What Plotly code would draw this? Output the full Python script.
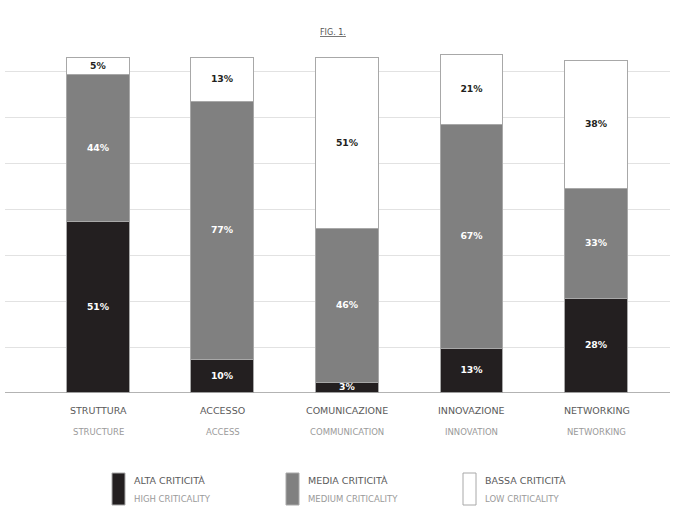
import plotly.graph_objects as go

categories_it = ["STRUTTURA", "ACCESSO", "COMUNICAZIONE", "INNOVAZIONE", "NETWORKING"]
categories_en = ["STRUCTURE", "ACCESS", "COMMUNICATION", "INNOVATION", "NETWORKING"]
alta = [51, 10, 3, 13, 28]
media = [44, 77, 46, 67, 33]
bassa = [5, 13, 51, 21, 38]
series_names_it = ["ALTA CRITICITÀ", "MEDIA CRITICITÀ", "BASSA CRITICITÀ"]
series_names_en = ["HIGH CRITICALITY", "MEDIUM CRITICALITY", "LOW CRITICALITY"]

W, H = 676, 508
L, R, T, B = 5, 6, 53, 115
PW, PH = W - L - R, H - T - B
YMAX = 101.5

def px2paper_x(px):
    return (px - L) / PW

def px2paper_y(py):
    return (H - B - py) / PH

fill_colors = ["#231f20", "#808080", "#ffffff"]
text_colors = ["#ffffff", "#ffffff", "#231f20"]

x = list(range(len(categories_it)))
fig = go.Figure()
for vals, name, fc, tc in zip([alta, media, bassa], series_names_it, fill_colors, text_colors):
    fig.add_trace(go.Bar(
        x=x, y=vals, name=name, width=0.505,
        marker=dict(color=fc, line=dict(color="#a8a8a8", width=1)),
        text=[f"{v}%" for v in vals], textposition="inside",
        insidetextanchor="middle",
        textfont=dict(family="DejaVu Sans", size=11, color=tc, weight="bold"),
        showlegend=False, cliponaxis=False,
    ))

fig.update_layout(
    barmode="stack",
    width=W, height=H,
    margin=dict(l=L, r=R, t=T, b=B),
    paper_bgcolor="white", plot_bgcolor="white",
    uniformtext=dict(minsize=8, mode="show"),
    xaxis=dict(range=[-0.75, 4.59], showticklabels=False, showgrid=False,
               zeroline=False, ticks="", fixedrange=True),
    yaxis=dict(range=[0, YMAX], tick0=0, dtick=13.7, showticklabels=False,
               gridcolor="#e2e2e2", gridwidth=1, zeroline=False, ticks=""),
    bargap=0,
)

# baseline
fig.add_shape(type="line", xref="paper", yref="y", x0=0, x1=1, y0=0, y1=0,
              line=dict(color="#9a9a9a", width=1.5))

# title
fig.add_annotation(text="<u>FIG. 1.</u>", xref="paper", yref="paper",
                   x=px2paper_x(333), y=px2paper_y(32), xanchor="center", yanchor="middle",
                   showarrow=False,
                   font=dict(family="DejaVu Sans", size=8, color="#555555"))

lab_font_it = dict(family="DejaVu Sans", size=9.5, color="#5a5a5a")
lab_font_en = dict(family="DejaVu Sans", size=8.5, color="#9a9a9a")

# category labels
for i, (it, en) in enumerate(zip(categories_it, categories_en)):
    fig.add_annotation(text=it, x=i, xref="x", yref="paper", y=px2paper_y(410),
                       xanchor="center", yanchor="middle", showarrow=False,
                       font=lab_font_it)
    fig.add_annotation(text=en, x=i, xref="x", yref="paper", y=px2paper_y(432),
                       xanchor="center", yanchor="middle", showarrow=False,
                       font=lab_font_en)

# custom legend
legend_x = [112, 286, 463]
for lx, fc, nit, nen in zip(legend_x, fill_colors, series_names_it, series_names_en):
    fig.add_shape(type="rect", xref="paper", yref="paper",
                  x0=px2paper_x(lx), x1=px2paper_x(lx + 13),
                  y0=px2paper_y(505), y1=px2paper_y(473),
                  fillcolor=fc, line=dict(color="#a8a8a8", width=1))
    fig.add_annotation(text=nit, xref="paper", yref="paper",
                       x=px2paper_x(lx + 20), y=px2paper_y(480),
                       xanchor="left", yanchor="middle", showarrow=False,
                       font=lab_font_it)
    fig.add_annotation(text=nen, xref="paper", yref="paper",
                       x=px2paper_x(lx + 20), y=px2paper_y(499),
                       xanchor="left", yanchor="middle", showarrow=False,
                       font=lab_font_en)

fig.write_html("out.html")
